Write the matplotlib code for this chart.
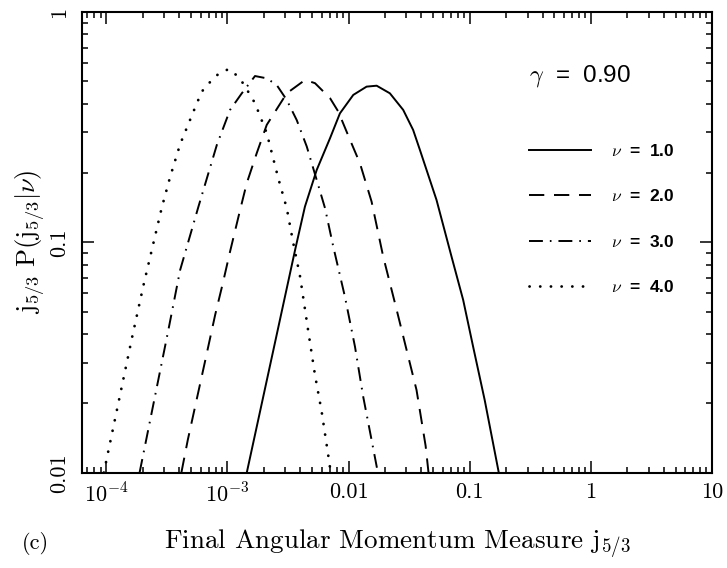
import matplotlib
matplotlib.use("Agg")
import matplotlib.pyplot as plt

plt.rcParams["mathtext.fontset"] = "cm"
plt.rcParams["lines.scale_dashes"] = False
plt.rcParams["axes.formatter.use_mathtext"] = True

# values (log-log plot)
j_nu1 = [1.445e-3, 3.631e-3, 4.365e-3, 5.458e-3, 7.031e-3, 8.49e-3, 0.01094,
         0.01409, 0.01706, 0.02193, 0.02825, 0.03412, 0.03882, 0.05321, 0.07079,
         0.08831, 0.1067, 0.1330, 0.1738]
p_nu1 = [0.01, 0.09333, 0.1429, 0.2061, 0.2831, 0.3631, 0.4365, 0.4742, 0.4786,
         0.4436, 0.3758, 0.3076, 0.2518, 0.1528, 0.08670, 0.05623, 0.03524,
         0.02065, 0.01]

j_nu2 = [4.169e-4, 4.710e-4, 6.531e-4, 7.925e-4, 9.162e-4, 1.052e-3, 1.274e-3,
         1.445e-3, 1.746e-3, 2.113e-3, 3.090e-3, 4.375e-3, 5.284e-3, 7.031e-3,
         8.222e-3, 0.01028, 0.01242, 0.01549, 0.01932, 0.02495, 0.03013, 0.03639,
         0.04325, 0.04571]
p_nu2 = [0.01, 0.01387, 0.03034, 0.04842, 0.06637, 0.09120, 0.1384, 0.1807,
         0.2438, 0.3236, 0.4436, 0.5070, 0.4909, 0.4227, 0.3698, 0.2786, 0.2203,
         0.1503, 0.08670, 0.05093, 0.03412, 0.02286, 0.01309, 0.01]

j_nu3 = [1.884e-4, 3.258e-4, 4.074e-4, 5.768e-4, 8.185e-4, 1.052e-3, 1.315e-3,
         1.690e-3, 2.113e-3, 2.553e-3, 3.090e-3, 3.733e-3, 4.519e-3, 5.458e-3,
         6.397e-3, 7.482e-3, 9.333e-3, 0.01130, 0.01321, 0.01549, 0.01746]
p_nu3 = [0.01, 0.04169, 0.07586, 0.1429, 0.2649, 0.3758, 0.4436, 0.5272, 0.5152,
         0.4819, 0.4150, 0.3396, 0.2606, 0.1866, 0.1406, 0.09572, 0.05808,
         0.03524, 0.02138, 0.01387, 0.01]

j_nu4 = [9.55e-5, 1.629e-4, 2.032e-4, 2.877e-4, 3.373e-4, 4.074e-4, 5.248e-4,
         6.138e-4, 7.112e-4, 8.279e-4, 1.019e-3, 1.180e-3, 1.355e-3, 1.690e-3,
         2.113e-3, 2.630e-3, 3.090e-3, 3.499e-3, 3.981e-3, 4.656e-3, 5.284e-3,
         5.998e-3, 6.808e-3, 7.13e-3]
p_nu4 = [0.01, 0.03837, 0.06531, 0.1419, 0.1928, 0.2667, 0.3698, 0.4508, 0.4932,
         0.5333, 0.5649, 0.5333, 0.4887, 0.4018, 0.2979, 0.1897, 0.1406, 0.09908,
         0.07096, 0.04093, 0.02655, 0.01841, 0.01183, 0.01]

xticks = [1e-4, 1e-3, 1e-2, 1e-1, 1, 10]
xticklabels = [r"$10^{-4}$", r"$10^{-3}$", "0.01", "0.1", "1", "10"]
yticks = [0.01, 0.1, 1]
yticklabels = ["0.01", "0.1", "1"]
labels = [r"$\nu$  =  1.0", r"$\nu$  =  2.0", r"$\nu$  =  3.0", r"$\nu$  =  4.0"]

fig = plt.figure(figsize=(7.27, 5.68), dpi=100)
ax = fig.add_axes([0.1128, 0.1678, 0.8666, 0.8111])

lw = 1.4
ax.plot(j_nu1, p_nu1, color="black", lw=lw, ls="-", label=labels[0])
ax.plot(j_nu2, p_nu2, color="black", lw=lw, ls=(0, (11, 7)), label=labels[1])
ax.plot(j_nu3, p_nu3, color="black", lw=lw, ls=(0, (10, 5, 1.2, 5)), label=labels[2])
ax.plot(j_nu4, p_nu4, color="black", lw=2.0, ls=(0, (0.1, 7.6)),
        dash_capstyle="round", label=labels[3])

ax.set_xscale("log")
ax.set_yscale("log")
ax.set_xlim(10 ** -4.2, 10)
ax.set_ylim(0.01, 1)

ax.set_xticks(xticks)
ax.set_xticklabels(xticklabels, family="cmr10", fontsize=16)
ax.set_yticks(yticks)
ax.set_yticklabels(yticklabels, family="cmr10", fontsize=16, rotation=90, va="center")

ax.tick_params(which="both", direction="in", top=True, right=True, width=1.1)
ax.tick_params(which="major", length=8.5, pad=7)
ax.tick_params(which="minor", length=4.3)
ax.tick_params(axis="y", which="major", pad=9)
for s in ax.spines.values():
    s.set_linewidth(1.5)

ax.set_xlabel(r"Final Angular Momentum Measure $\mathrm{j}_{5/3}$",
              family="cmr10", fontsize=19.5, labelpad=15)
ax.set_ylabel(r"$\mathrm{j}_{5/3}\ \mathrm{P}(\mathrm{j}_{5/3}|\nu)$",
              fontsize=19, labelpad=2)

ax.text(0.709, 0.862, r"$\gamma$  =  0.90", transform=ax.transAxes,
        fontsize=17.5, family="Liberation Sans", va="center", ha="left")

leg = ax.legend(loc="upper left", bbox_to_anchor=(0.7095, 0.716), frameon=False,
                handlelength=3.56, handletextpad=1.15, labelspacing=1.7,
                borderpad=0, borderaxespad=0,
                prop={"family": "Liberation Sans", "weight": "bold", "size": 12.5})

fig.text(0.03, 0.033, "(c)", family="cmr10", fontsize=16)

fig.savefig("out.png", dpi=100)
